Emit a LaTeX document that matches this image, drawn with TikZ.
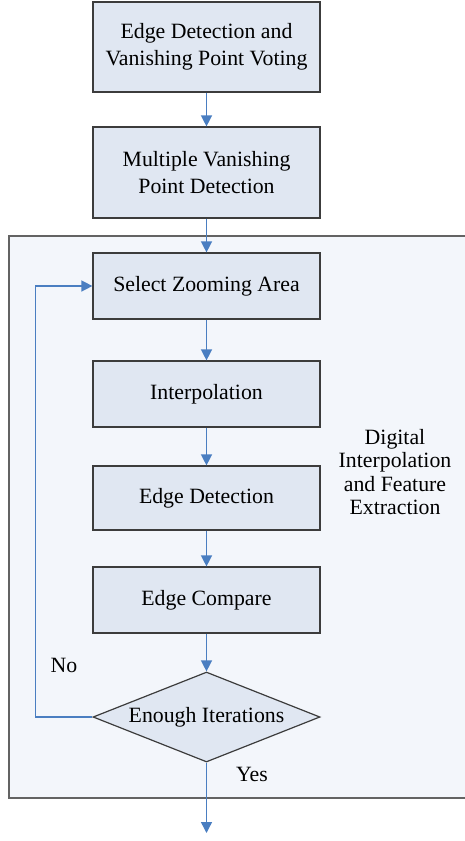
\documentclass[tikz,border=0pt]{standalone}
\usepackage{fontspec}
\setmainfont{Liberation Serif}
\usetikzlibrary{arrows.meta,shapes.geometric}
\definecolor{boxfill}{RGB}{224,231,242}
\definecolor{framefill}{RGB}{243,246,251}
\definecolor{lineblue}{RGB}{74,126,193}
\definecolor{edgegray}{RGB}{60,60,60}
\tikzset{
    procbox/.style={draw=edgegray, line width=1.2pt, fill=boxfill, minimum width=227pt,
        align=center, inner sep=0pt, font=\fontsize{21.8}{26.5}\selectfont},
    flow/.style={draw=lineblue, line width=1.4pt, -{Triangle[width=11pt,length=11pt]}},
}

\begin{document}
\begin{tikzpicture}[x=1pt, y=-1pt]
    \useasboundingbox (0, 0) rectangle (465, 841);

    % Outer frame of the iterative stage
    \draw[draw=edgegray!80, line width=2pt, fill=framefill] (9, 236) rectangle (480, 798);

    % --- Process boxes
    \node[procbox, minimum height=90pt] (vote) at (206.5, 47) {Edge Detection and\\Vanishing Point Voting};
    \node[procbox, minimum height=91pt] (multi) at (206.5, 172.5) {Multiple Vanishing\\Point Detection};
    \node[procbox, minimum height=66pt] (zoom) at (206.5, 286) {Select Zooming Area};
    \node[procbox, minimum height=66pt] (interp) at (206.5, 394) {Interpolation};
    \node[procbox, minimum height=64pt] (edge) at (206.5, 498) {Edge Detection};
    \node[procbox, minimum height=66pt] (cmp) at (206.5, 600) {Edge Compare};

    % Decision
    \node[procbox, shape=diamond, aspect=2.52, minimum width=227pt, minimum height=90pt] (iter) at (206.5, 717) {Enough Iterations};

    % Stage label
    \node[align=center, font=\fontsize{21.8}{23.5}\selectfont] (stage) at (395, 472) {Digital\\Interpolation\\and Feature\\Extraction};

    % --- Connectors
    \draw[flow] (vote) -- (multi);
    \draw[flow] (multi) -- (zoom);
    \draw[flow] (zoom) -- (interp);
    \draw[flow] (interp) -- (edge);
    \draw[flow] (edge) -- (cmp);
    \draw[flow] (cmp) -- (iter);

    % Loop back when not done
    \draw[flow] (iter.west) -- ++(-57, 0) |- (zoom.west);
    \node[font=\fontsize{21.8}{23.5}\selectfont] (no) at (64, 665) {No};

    % Exit
    \coordinate (out) at (206.5, 833);
    \draw[flow] (iter.south) -- (out);
    \node[font=\fontsize{21.8}{23.5}\selectfont] (yes) at (252, 774) {Yes};
\end{tikzpicture}
\end{document}
